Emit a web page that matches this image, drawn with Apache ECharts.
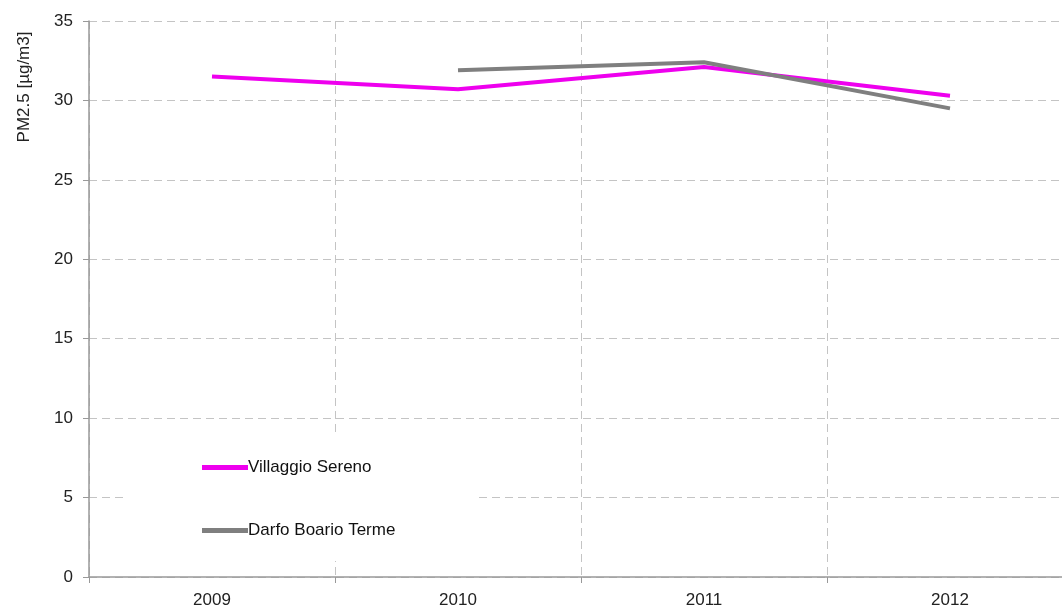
<!DOCTYPE html>
<html>
<head>
<meta charset="utf-8">
<script src="https://cdn.jsdelivr.net/npm/echarts@6/dist/echarts.min.js"></script>
<style>html,body{margin:0;padding:0;background:#fff}#c{width:1062px;height:609px}</style>
</head>
<body>
<div id="c"></div>
<script>
const years = ['2009', '2010', '2011', '2012'];
const villaggioSereno = [31.5, 30.7, 32.1, 30.3];
const darfoBoarioTerme = [null, 31.9, 32.4, 29.5];
const yTicks = [0, 5, 10, 15, 20, 25, 30, 35];

const chart = echarts.init(document.getElementById('c'), null, {renderer: 'canvas'});
const font = 'Liberation Sans, Arial, sans-serif';
chart.setOption({
  backgroundColor: '#fff',
  animation: false,
  grid: {left: 89, width: 984, top: 21, bottom: 32, containLabel: false, outerBoundsMode: 'none'},
  legend: {
    orient: 'vertical',
    left: 125, top: 432,
    backgroundColor: '#fff',
    padding: [27, 83, 22, 77],
    itemGap: 46,
    itemWidth: 46, itemHeight: 14,
    textStyle: {fontFamily: font, fontSize: 17, color: '#111', padding: [0, 0, 0, -5]},
    data: [
      {name: 'Villaggio Sereno', icon: 'path://M0,0 L46,0 L46,5 L0,5 Z'},
      {name: 'Darfo Boario Terme', icon: 'path://M0,0 L46,0 L46,5 L0,5 Z'}
    ]
  },
  xAxis: {
    type: 'category',
    data: years,
    boundaryGap: true,
    axisLine: {lineStyle: {color: '#999', width: 1.5}},
    axisTick: {show: true, length: 6, inside: false, lineStyle: {color: '#999'}},
    axisLabel: {fontFamily: font, fontSize: 17, color: '#222', margin: 15},
    splitLine: {show: true, lineStyle: {color: '#c4c4c4', type: [8, 5], width: 1}}
  },
  yAxis: {
    type: 'value',
    min: 0, max: 35, interval: 5,
    axisLine: {show: true, lineStyle: {color: '#999', width: 1.5}},
    axisTick: {show: true, length: 6, lineStyle: {color: '#999'}},
    axisLabel: {fontFamily: font, fontSize: 17, color: '#222', margin: 16,
      formatter: v => yTicks.includes(v) ? String(v) : ''},
    splitLine: {show: true, lineStyle: {color: '#c4c4c4', type: [8, 5], width: 1}}
  },
  graphic: [{
    type: 'text',
    x: 24, y: 87,
    rotation: Math.PI / 2,
    style: {text: 'PM2.5 [µg/m3]', font: '17px ' + font, fill: '#222', align: 'center', verticalAlign: 'middle'}
  }],
  series: [
    {
      name: 'Villaggio Sereno', type: 'line', data: villaggioSereno,
      symbol: 'none', color: '#ee00ee',
      lineStyle: {width: 4, color: '#ee00ee'}, z: 3
    },
    {
      name: 'Darfo Boario Terme', type: 'line', data: darfoBoarioTerme,
      symbol: 'none', color: '#7f7f7f',
      lineStyle: {width: 4, color: '#7f7f7f'}, z: 4
    }
  ]
});
</script>
</body>
</html>
